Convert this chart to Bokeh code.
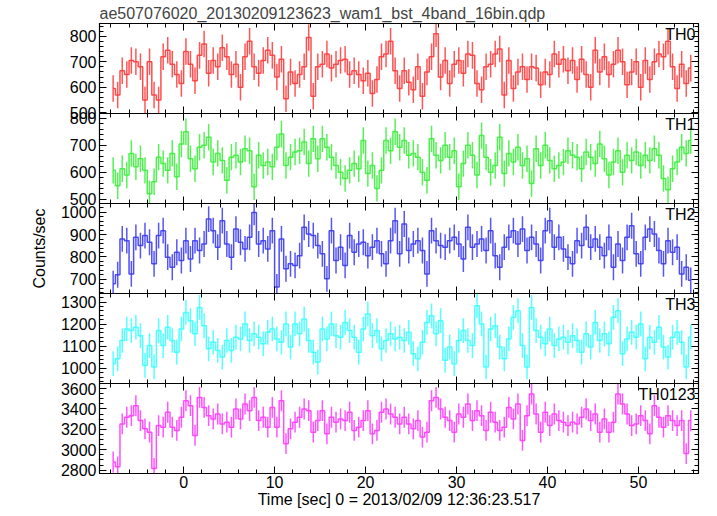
from bokeh.plotting import figure
from bokeh.layouts import column
from bokeh.models import (ColumnDataSource, SingleIntervalTicker, LinearAxis, Label,
                          Range1d, CustomJSTickFormatter)
from bokeh.embed import file_html
from bokeh.resources import INLINE

title_text = "ae507076020_20130209123623_wam1_bst_4band_16bin.qdp"
x_label = "Time [sec] 0 = 2013/02/09 12:36:23.517"
y_label = "Counts/sec"
panel_names = ["TH0", "TH1", "TH2", "TH3", "TH0123"]

bin_start = -7.75
bin_width = 0.5
x_limits = (-9.25, 56.6)

th0 = [595, 570, 665, 650, 705, 700, 680, 550, 700, 570,
       550, 720, 745, 690, 650, 615, 740, 690, 625, 725,
       770, 655, 705, 680, 755, 720, 650, 690, 600, 720,
       780, 680, 655, 705, 745, 725, 640, 710, 555, 660,
       615, 650, 680, 795, 565, 680, 690, 730, 675, 690,
       705, 710, 650, 665, 650, 625, 655, 575, 630, 720,
       730, 780, 665, 595,
       665, 620, 590, 680, 565, 660, 720, 810, 640, 705,
       615, 690, 705, 655, 730, 725, 615, 590, 680, 690,
       730, 750, 570, 705, 595, 660, 680, 630, 680, 675,
       610, 660, 650, 730, 690, 710, 665, 705, 630, 710,
       650, 600, 745, 660, 720, 650, 690, 745, 700, 610,
       660, 700, 600, 705, 630, 700, 730, 720, 780, 680,
       595, 690, 615, 675]

th1 = [607, 550, 613, 590, 670, 620, 650, 607, 520, 565,
       656, 632, 607, 670, 583, 705, 750, 650, 613, 693,
       700, 730, 638, 670, 644, 570, 656, 663, 638, 687,
       680, 546, 663, 625, 638, 620, 693, 742, 625, 656,
       675, 680, 712, 632, 724, 650, 724, 693, 656, 625,
       600, 577, 607, 632, 613, 718, 595, 625, 540, 607,
       718, 680, 750, 693,
       718, 663, 670, 656, 600, 570, 724, 663, 644, 700,
       656, 680, 546, 632, 700, 663, 590, 736, 656, 600,
       625, 730, 595, 670, 638, 693, 625, 650, 558, 687,
       625, 700, 644, 613, 625, 638, 680, 663, 656, 613,
       675, 656, 632, 705, 650, 590, 638, 680, 600, 663,
       644, 675, 625, 663, 644, 687, 663, 577, 535, 613,
       638, 693, 670, 718]

th2 = [680, 720, 881, 873, 724, 888, 851, 896, 866, 769,
       896, 918, 799, 754, 821, 784, 873, 791, 873, 829,
       858, 970, 918, 844, 963, 858, 799, 925, 866, 836,
       888, 1000, 858, 873, 836, 918, 665, 881, 747, 769,
       762, 806, 933, 903, 896, 851, 814, 702, 918, 784,
       844, 762, 896, 821, 858, 866, 806, 844, 873, 814,
       769, 873, 963, 814,
       948, 829, 858, 873, 829, 724, 918, 873, 851, 844,
       873, 888, 858, 791, 933, 844, 858, 881, 829, 918,
       806, 754, 844, 888, 918, 858, 925, 829, 888, 858,
       784, 918, 963, 844, 888, 836, 799, 769, 873, 851,
       933, 844, 881, 844, 806, 888, 754, 858, 784, 888,
       940, 814, 769, 888, 925, 903, 829, 769, 873, 821,
       844, 724, 754, 695]

th3 = [1021, 1043, 1126, 1178, 1171, 1186, 1148, 1013, 1103, 1006,
       1171, 1103, 1186, 1126, 1073, 1178, 1253, 1216, 1156, 1276,
       1193, 1088, 1118, 1081, 1051, 1126, 1081, 1141, 1133, 1201,
       1126, 1156, 1141, 1111, 1163, 1178, 1133, 1118, 1201, 1096,
       1201, 1156, 1223, 1126, 1073, 1028, 1178, 1133, 1201, 1148,
       1141, 1208, 1171, 1141, 1073, 1178, 1246, 1148, 1171, 1088,
       1126, 1156, 1133, 1141,
       1126, 1163, 1066, 1043, 1118, 1208, 1238, 1156, 1216, 1036,
       1096, 1021, 1126, 1171, 1126, 1103, 1283, 1201, 1006, 1178,
       1193, 1096, 1043, 1133, 1231, 1261, 1103, 1006, 1276, 1171,
       1141, 1111, 1178, 1103, 1133, 1141, 1118, 1148, 1126, 1073,
       1156, 1096, 1208, 1126, 1156, 1111, 1231, 1261, 1066, 1133,
       1163, 1141, 1201, 1043, 1141, 1118, 1186, 1096, 1051, 1141,
       1163, 1118, 1006, 1141]

th0123 = [2880, 2832, 3253, 3318, 3334, 3432, 3286, 3205, 3172, 2816,
          3237, 3221, 3367, 3221, 3189, 3318, 3480, 3432, 3140, 3513,
          3415, 3334, 3302, 3350, 3253, 3270, 3221, 3399, 3302, 3448,
          3383, 3513, 3286, 3318, 3221, 3415, 3221, 3480, 3059, 3205,
          3270, 3318, 3399, 3383, 3172, 3286, 3383, 3156, 3318, 3270,
          3302, 3286, 3367, 3189, 3221, 3286, 3383, 3156, 3189, 3367,
          3399, 3350, 3318, 3253,
          3318, 3253, 3205, 3286, 3124, 3172, 3480, 3513, 3399, 3318,
          3286, 3172, 3350, 3318, 3448, 3286, 3383, 3334, 3189, 3367,
          3270, 3189, 3221, 3415, 3302, 3448, 3091, 3334, 3545, 3350,
          3172, 3367, 3237, 3350, 3286, 3270, 3237, 3270, 3253, 3318,
          3399, 3286, 3350, 3172, 3302, 3172, 3270, 3545, 3448, 3350,
          3237, 3253, 3334, 3286, 3156, 3432, 3318, 3221, 3334, 3286,
          3237, 3286, 2962, 3286]

series = [th0, th1, th2, th3, th0123]
errors = [52, 49, 58, 56, 102]
y_limits = [(497, 850), (484, 818), (636, 1040), (931, 1339), (2767, 3649)]
y_tick_step = [100, 100, 100, 100, 200]
y_minor = [5, 5, 5, 5, 4]
colors = ["#ff3a3a", "#3aee3a", "#3a3af5", "#3affff", "#ff3aff"]

FONT = "Liberation Sans"
FS = "16px"
OVER = 10  # canvas overlap above/below each frame
blank = CustomJSTickFormatter(code="return ''")


def style_axis(ax, show_labels, size=FS):
    ax.major_tick_in = 7
    ax.major_tick_out = 0
    ax.minor_tick_in = 4
    ax.minor_tick_out = 0
    ax.axis_line_color = "black"
    ax.major_tick_line_color = "black"
    ax.minor_tick_line_color = "black"
    ax.major_label_text_font = FONT
    ax.major_label_text_font_size = size
    ax.major_label_text_color = "black"
    ax.axis_label_text_font = FONT
    ax.axis_label_text_font_size = size
    ax.axis_label_text_font_style = "normal"
    ax.axis_label_text_color = "black"
    if show_labels:
        ax.major_label_standoff = 3
    else:
        ax.major_label_standoff = 0
        ax.formatter = blank


figs = []
n = len(series)
for i in range(n):
    first = i == 0
    last = i == n - 1
    vals = series[i]
    xs = [bin_start + bin_width * k for k in range(len(vals))]
    src = ColumnDataSource(dict(x=xs, y=vals,
                                lo=[v - errors[i] for v in vals],
                                hi=[v + errors[i] for v in vals]))
    p = figure(frame_width=599, frame_height=90,
               x_range=Range1d(*x_limits), y_range=Range1d(*y_limits[i]),
               output_backend="svg", toolbar_location=None,
               title=title_text if first else None,
               min_border_left=99, min_border_right=3,
               min_border_top=20 if first else OVER,
               min_border_bottom=35 if last else OVER,
               margin=(0, 0, 0, 0) if first else (-2 * OVER, 0, 0, 0),
               background_fill_color="white", border_fill_alpha=0.0,
               outline_line_color="black", outline_line_width=1.2)
    p.grid.visible = False
    if first:
        p.title.text_font = FONT
        p.title.text_font_size = FS
        p.title.text_font_style = "normal"
        p.title.align = "left"
        p.title.offset = 0
        p.title.standoff = 4

    p.xaxis.ticker = SingleIntervalTicker(interval=10, num_minor_ticks=5)
    p.yaxis.ticker = SingleIntervalTicker(interval=y_tick_step[i], num_minor_ticks=y_minor[i])
    style_axis(p.xaxis[0], last)
    style_axis(p.yaxis[0], True)
    if last:
        p.xaxis.axis_label = x_label
        p.xaxis.axis_label_standoff = 0
        p.xaxis.major_label_standoff = 2
    if i == 2:
        p.yaxis.axis_label = y_label
        p.yaxis.axis_label_standoff = 10

    top = LinearAxis(ticker=SingleIntervalTicker(interval=10, num_minor_ticks=5))
    style_axis(top, False)
    p.add_layout(top, "above")
    right = LinearAxis(ticker=SingleIntervalTicker(interval=y_tick_step[i],
                                                   num_minor_ticks=y_minor[i]))
    style_axis(right, False)
    p.add_layout(right, "right")

    p.segment(x0="x", y0="lo", x1="x", y1="hi", source=src,
              line_color=colors[i], line_width=1.5, line_alpha=0.85)
    p.step(x="x", y="y", source=src, mode="center",
           line_color=colors[i], line_width=1.5, line_alpha=0.9)

    p.add_layout(Label(x=x_limits[1], y=y_limits[i][1], x_offset=-3, y_offset=-2,
                       text=panel_names[i], text_align="right", text_baseline="top",
                       text_font=FONT, text_font_size=FS, text_color="black"))
    figs.append(p)

layout = column(*figs, spacing=0)
open("out.html", "w").write(file_html(layout, INLINE))
